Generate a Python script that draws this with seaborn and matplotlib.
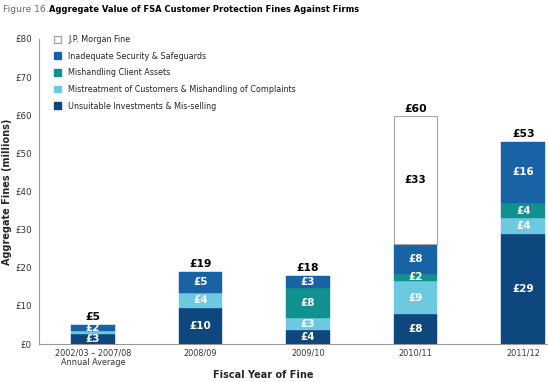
import matplotlib

matplotlib.use("Agg")
import matplotlib.pyplot as plt
import numpy as np
import pandas as pd
import seaborn as sns
from matplotlib.patches import Patch

years = ["2002/03 \u2013 2007/08\nAnnual Average", "2008/09", "2009/10", "2010/11", "2011/12"]
unsuitable = [2.6, 9.5, 3.8, 7.8, 28.8]
mistreatment = [0.7, 4.0, 3.0, 8.7, 4.2]
client_assets = [0.0, 0.0, 7.8, 1.9, 3.9]
security = [1.7, 5.4, 3.2, 7.9, 16.2]
jp_morgan = [0.0, 0.0, 0.0, 33.4, 0.0]

series_names = [
    "Unsuitable Investments & Mis-selling",
    "Mistreatment of Customers & Mishandling of Complaints",
    "Mishandling Client Assets",
    "Inadequate Security & Safeguards",
    "J.P. Morgan Fine",
]
series_values = [unsuitable, mistreatment, client_assets, security, jp_morgan]
colors = ["#0e477d", "#6dc9e0", "#10908f", "#1763a6", "#ffffff"]
label_colors = ["white", "white", "white", "white", "black"]

FONT = ["Liberation Sans Narrow", "DejaVu Sans"]

sns.set_theme(style="white")
plt.rcParams["font.family"] = FONT

fig = plt.figure(figsize=(5.48, 3.82), dpi=100)
ax = fig.add_axes([39 / 548, 38 / 382, 1 - 39 / 548, (344 - 39) / 382])

bottom = np.zeros(len(years))
for name, vals, color, lc in zip(series_names, series_values, colors, label_colors):
    df = pd.DataFrame({"year": years, "value": vals})
    edge = "#a6a6a6" if color == "#ffffff" else color
    n_before = len(ax.patches)
    sns.barplot(
        data=df,
        x="year",
        y="value",
        order=years,
        color=color,
        saturation=1,
        width=0.405,
        bottom=bottom,
        edgecolor=edge,
        linewidth=0.8 if color == "#ffffff" else 0.3,
        errorbar=None,
        ax=ax,
    )
    # hide the empty segments so they don't leave an edge line
    for patch in ax.patches[n_before:]:
        if patch.get_height() == 0:
            patch.set_visible(False)
    for i, v in enumerate(vals):
        if v >= 1.5:
            ax.text(i, bottom[i] + v / 2, f"\u00a3{round(v):d}", ha="center", va="center",
                    color=lc, fontsize=7.5, fontweight="bold")
    bottom = bottom + np.array(vals)

for i, total in enumerate(bottom):
    ax.text(i, total + 0.7, f"\u00a3{round(total):d}", ha="center", va="bottom",
            color="black", fontsize=7.8, fontweight="bold")

ax.set_ylim(0, 80)
ax.set_xlim(-0.5, 4.23)
ax.set_yticks(range(0, 81, 10))
ax.set_yticklabels([f"\u00a3{t}" for t in range(0, 81, 10)], fontsize=6.3, color="#333333")
ax.set_xticks(range(len(years)))
ax.set_xticklabels(years, fontsize=5.9, color="#333333", linespacing=1.1)
ax.set_xticks(np.arange(0.5, 4.5, 1), minor=True)
ax.tick_params(axis="x", which="major", length=0, pad=3)
ax.tick_params(axis="x", which="minor", length=3, color="#999999", direction="out")
ax.tick_params(axis="y", length=3, color="#999999", direction="out", pad=2)
ax.set_xlabel("Fiscal Year of Fine", fontsize=7, fontweight="bold")
ax.set_ylabel("Aggregate Fines (millions)", fontsize=7, fontweight="bold")
ax.xaxis.set_label_coords(0.44, -0.085)
ax.yaxis.set_label_coords(-0.053, 0.5)
sns.despine(ax=ax)
for side in ["left", "bottom"]:
    ax.spines[side].set_color("#999999")
    ax.spines[side].set_linewidth(0.8)

handles = [
    Patch(facecolor=c, edgecolor="#a6a6a6" if c == "#ffffff" else c, label=n)
    for n, c in zip(series_names, colors)
][::-1]
ax.legend(handles=handles, loc="upper left", bbox_to_anchor=(0.015, 1.037), frameon=False,
          fontsize=5.8, handlelength=0.9, handleheight=0.9, handletextpad=0.9,
          labelspacing=0.95)

fig.text(3 / 548, 1 - 10 / 382, "Figure 16.", fontsize=6.6, color="#666666", va="center")
fig.text(49 / 548, 1 - 10 / 382, "Aggregate Value of FSA Customer Protection Fines Against Firms",
         fontsize=6.0, fontweight="bold", color="black", va="center")

fig.savefig("out.png", dpi=100)
